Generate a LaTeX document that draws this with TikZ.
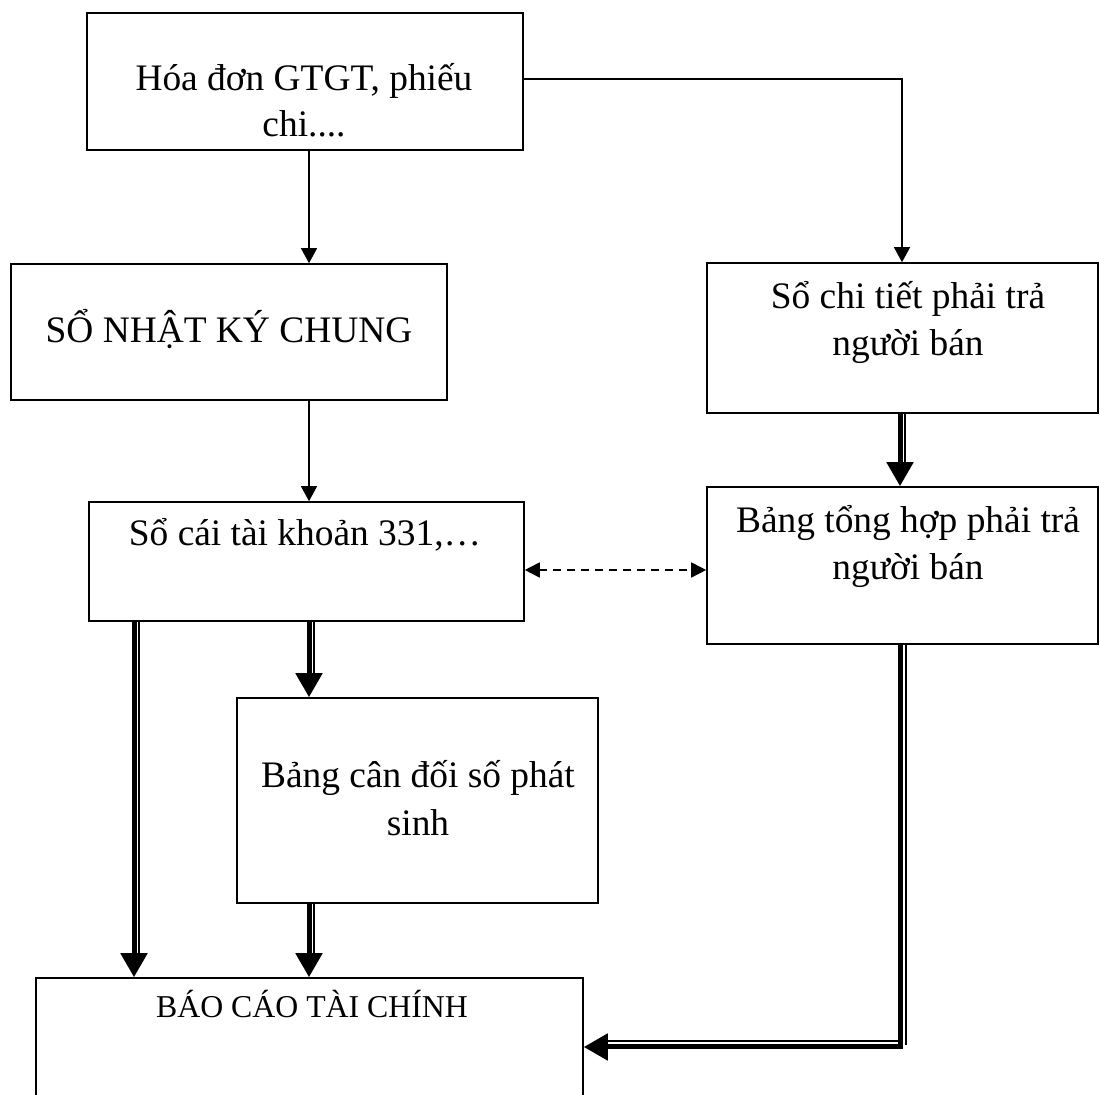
\documentclass[tikz,border=0pt]{standalone}
\usepackage{fontspec}
\setmainfont{Liberation Serif}
\usetikzlibrary{arrows.meta,fit,calc}
\begin{document}
\begin{tikzpicture}[x=0.5pt,y=-0.5pt,
 box/.style={draw, line width=0.8pt, inner sep=0pt},
 txt/.style={font=\fontsize{18.7}{22}\selectfont, inner sep=0pt, anchor=base},
 smalltxt/.style={font=\fontsize{15.9}{19}\selectfont, inner sep=0pt, anchor=base},
 thinarrow/.style={line width=0.65pt, -{Triangle[width=8pt,length=7.5pt]}},
 dasharrow/.style={line width=0.85pt, dash pattern=on 4pt off 3pt, {Triangle[width=7.5pt,length=7.5pt]}-{Triangle[width=7.5pt,length=7.5pt]}},
 thickarrow/.style={line width=2.5pt, -{Triangle[width=13pt,length=12pt]}},
 thinline/.style={line width=0.75pt},
]
\useasboundingbox (0,0) rectangle (1100,1095);

% columns and rows
\coordinate (cA) at (309,0);
\coordinate (cL) at (134,0);
\coordinate (cR) at (902,0);
\coordinate (cR2) at (900,0);
\coordinate (rH) at (0,79);
\coordinate (rD) at (0,570);
\coordinate (rB) at (0,1047);

% boxes
\node[box, fit={(87,13) (523,150)}] (b1) {};
\node[box, fit={(11,264) (447,400)}] (b2) {};
\node[box, fit={(707,263) (1098,413)}] (b3) {};
\node[box, fit={(89,502) (524,621)}] (b4) {};
\node[box, fit={(707,487) (1098,644)}] (b5) {};
\node[box, fit={(237,698) (598,903)}] (b6) {};
\node[box, fit={(36,978) (583,1130)}] (b7) {};

% texts
\node[txt] (t1a) at (304,91) {Hóa đơn GTGT, phiếu};
\node[txt] (t1b) at (304,137) {chi....};
\node[txt] (t2) at (229,343) {SỔ NHẬT KÝ CHUNG};
\node[txt] (t3a) at (908,309) {Sổ chi tiết phải trả};
\node[txt] (t3b) at (908,356) {người bán};
\node[txt] (t4) at (305,546) {Sổ cái tài khoản 331,…};
\node[txt] (t5a) at (908,533) {Bảng tổng hợp phải trả};
\node[txt] (t5b) at (908,580) {người bán};
\node[txt] (t6a) at (418,788) {Bảng cân đối số phát};
\node[txt] (t6b) at (418,836) {sinh};
\node[smalltxt] (t7) at (312,1018) {BÁO CÁO TÀI CHÍNH};

% thin connectors
\draw[thinarrow] (b1.south -| cA) -- (b2.north -| cA);
\draw[thinarrow] (b1.east |- rH) -| (b3.north -| cR);
\draw[thinarrow] (b2.south -| cA) -- (b4.north -| cA);

% dashed two-way connector
\draw[dasharrow] (b4.east |- rD) -- (b5.west |- rD);

% double connectors
\draw[thickarrow] (b3.south -| cR2) -- (b5.north -| cR2);
\draw[thinline] ($(b3.south -| cR2)+(5,0)$) -- ($(b5.north -| cR2)+(5,-18)$);

\draw[thickarrow] (b4.south -| cL) -- (b7.north -| cL);
\draw[thinline] ($(b4.south -| cL)+(5,0)$) -- ($(b7.north -| cL)+(5,-18)$);

\draw[thickarrow] (b4.south -| cA) -- (b6.north -| cA);
\draw[thinline] ($(b4.south -| cA)+(5,0)$) -- ($(b6.north -| cA)+(5,-18)$);

\draw[thickarrow] (b6.south -| cA) -- (b7.north -| cA);
\draw[thinline] ($(b6.south -| cA)+(5,0)$) -- ($(b7.north -| cA)+(5,-18)$);

\draw[thickarrow] (b5.south -| cR2) |- (b7.east |- rB);
\draw[thinline] ($(b5.south -| cR2)+(6,0)$) -- ($(cR2 |- rB)+(6,-2)$);
\draw[thinline] ($(cR2 |- rB)+(-2,-6)$) -- ($(b7.east |- rB)+(20,-6)$);
\end{tikzpicture}
\end{document}
